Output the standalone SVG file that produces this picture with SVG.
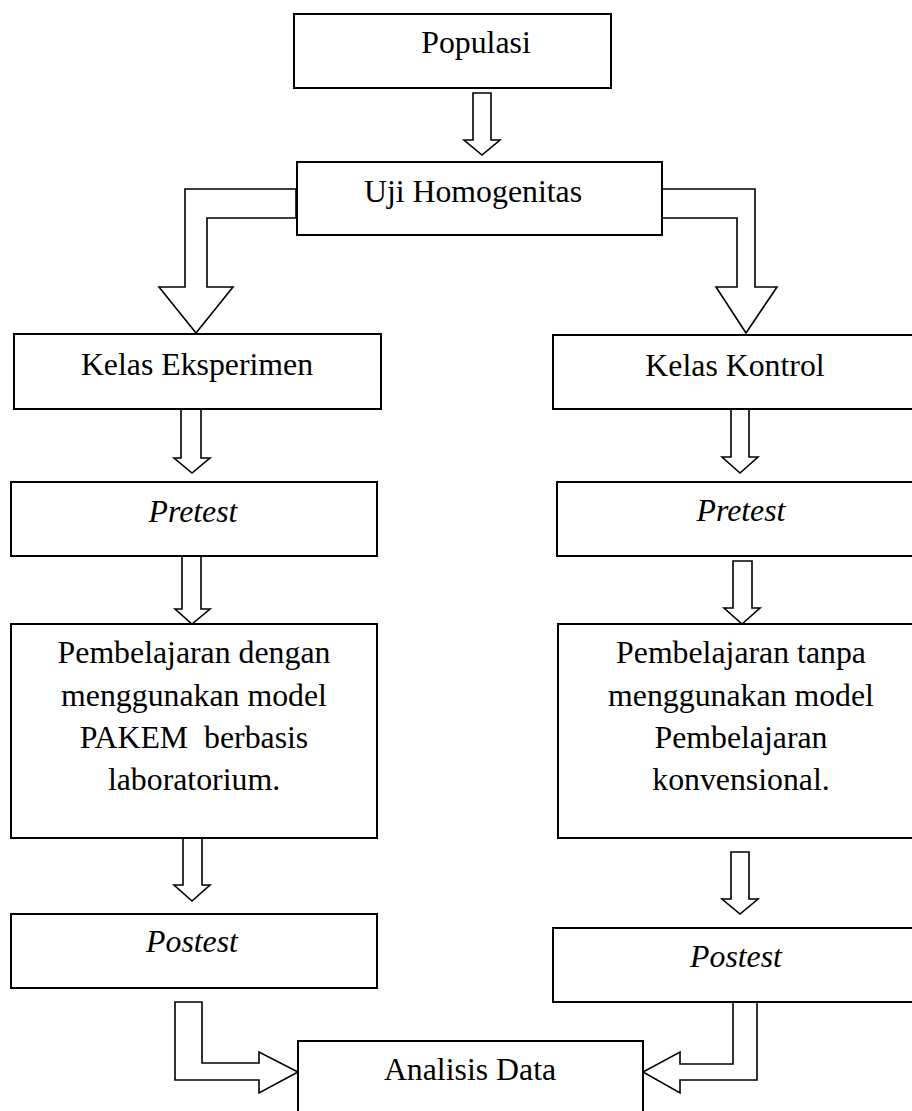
<svg xmlns="http://www.w3.org/2000/svg" width="912" height="1111" viewBox="0 0 912 1111">
<style>
.box{fill:#fff;stroke:#000;stroke-width:2}
.arr{fill:#fff;stroke:#000;stroke-width:1.6;stroke-linejoin:miter}
.t{font-family:'Liberation Serif','Times New Roman',Tinos,'DejaVu Serif',serif;font-size:31.8px;fill:#000;text-anchor:middle}
.it{font-style:italic}
</style>
<rect width="912" height="1111" fill="#fff"/>
<g id="connectors">
<polygon class="arr" points="473,93 491,93 491,140 500,140 482,155 464,140 473,140"/>
<polygon class="arr" points="296,189 185,189 185,287 159,287 196,333 233,287 207,287 207,218 296,218"/>
<polygon class="arr" points="662,189 755,189 755,287 777,287 746,333 716,287 737,287 737,218 662,218"/>
<polygon class="arr" points="181,409 201,409 201,458 210,458 192,473 174,458 181,458"/>
<polygon class="arr" points="182,556 201,556 201,609 210,609 192,624 175,609 182,609"/>
<polygon class="arr" points="183,838 202,838 202,885 210,885 192,901 174,885 183,885"/>
<polygon class="arr" points="731,409 749,409 749,457 758,457 740,473 722,457 731,457"/>
<polygon class="arr" points="733,561 752,561 752,608 760,608 742,624 724,608 733,608"/>
<polygon class="arr" points="731,852 749,852 749,899 758,899 740,914 722,899 731,899"/>
<polygon class="arr" points="175,1002 202,1002 202,1063 259,1063 259,1052 298,1072 259,1093 259,1080 175,1080"/>
<polygon class="arr" points="733,1002 757,1002 757,1080 680,1080 680,1093 643,1072 680,1052 680,1064 733,1064"/>
</g>
<g font-family="Liberation Serif, Times New Roman, serif">
<g id="populasi">
<rect class="box" x="294" y="14" width="317" height="74"/>
<text class="t" x="476" y="53">Populasi</text>
</g>
<g id="uji">
<rect class="box" x="297" y="162" width="365" height="73"/>
<text class="t" x="473" y="202">Uji Homogenitas</text>
</g>
<g id="kelas-eksperimen">
<rect class="box" x="14" y="334" width="367" height="75"/>
<text class="t" x="197" y="375">Kelas Eksperimen</text>
</g>
<g id="kelas-kontrol">
<rect class="box" x="553" y="335" width="370" height="74"/>
<text class="t" x="735" y="376">Kelas Kontrol</text>
</g>
<g id="pretest-eksperimen">
<rect class="box" x="11" y="482" width="366" height="74"/>
<text class="t it" x="193" y="522">Pretest</text>
</g>
<g id="pretest-kontrol">
<rect class="box" x="557" y="482" width="370" height="74"/>
<text class="t it" x="741" y="521">Pretest</text>
</g>
<g id="pembelajaran-eksperimen">
<rect class="box" x="11" y="624" width="366" height="214"/>
<text class="t" x="194" y="663">Pembelajaran dengan</text>
<text class="t" x="194" y="706">menggunakan model</text>
<text class="t" x="194" y="748" xml:space="preserve">PAKEM  berbasis</text>
<text class="t" x="194" y="790">laboratorium.</text>
</g>
<g id="pembelajaran-kontrol">
<rect class="box" x="558" y="624" width="370" height="214"/>
<text class="t" x="741" y="663">Pembelajaran tanpa</text>
<text class="t" x="741" y="706">menggunakan model</text>
<text class="t" x="741" y="748">Pembelajaran</text>
<text class="t" x="741" y="790">konvensional.</text>
</g>
<g id="postest-eksperimen">
<rect class="box" x="11" y="914" width="366" height="74"/>
<text class="t it" x="192" y="952">Postest</text>
</g>
<g id="postest-kontrol">
<rect class="box" x="553" y="928" width="370" height="74"/>
<text class="t it" x="736" y="967">Postest</text>
</g>
<g id="analisis">
<rect class="box" x="298" y="1041" width="345" height="80"/>
<text class="t" x="470" y="1080">Analisis Data</text>
</g>
</g>
</svg>
